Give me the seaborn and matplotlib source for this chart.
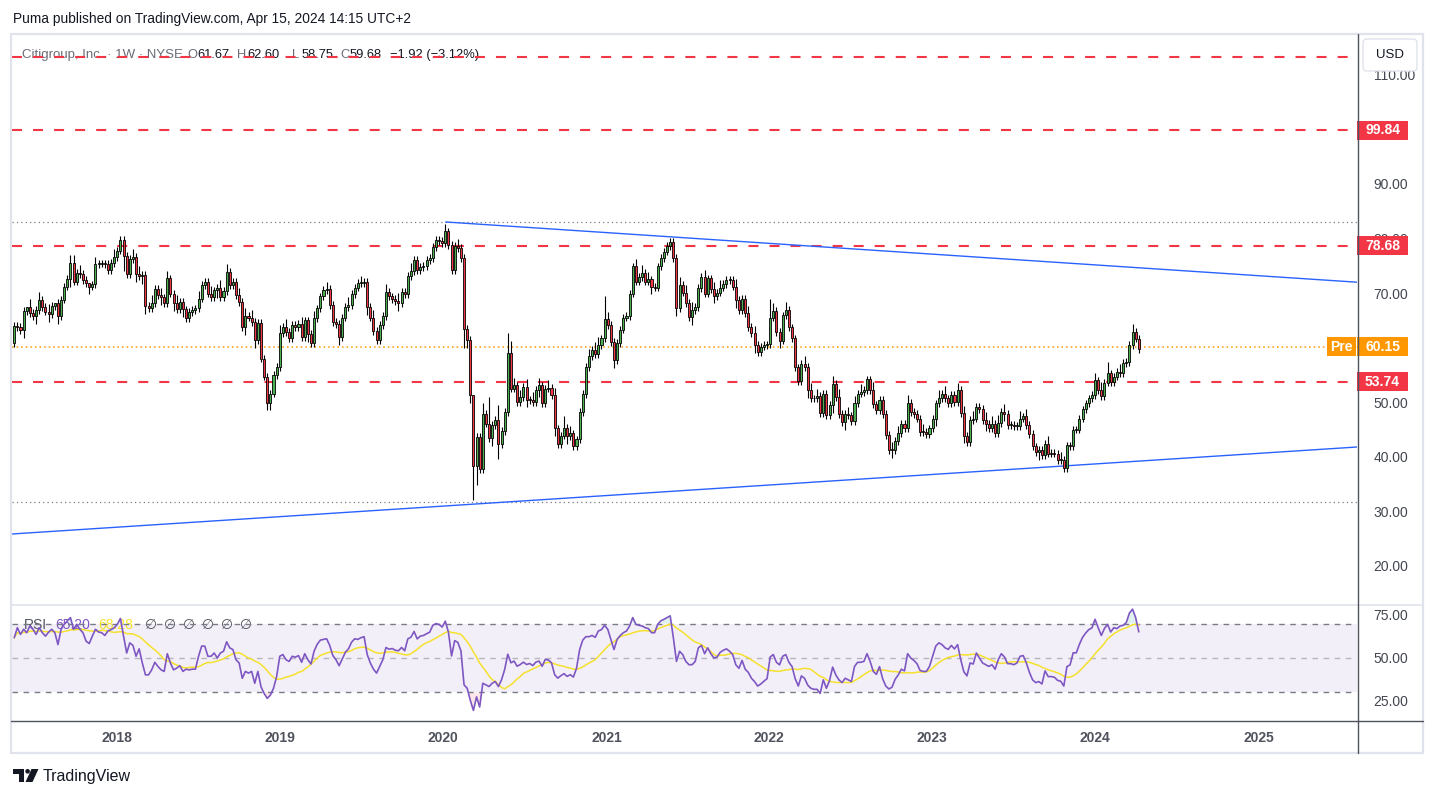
import numpy as np
import pandas as pd
import matplotlib
matplotlib.use("Agg")
import matplotlib.pyplot as plt
import matplotlib.dates as mdates
import matplotlib.transforms as mtransforms
from matplotlib.patches import Rectangle, Polygon, Circle, FancyBboxPatch
import seaborn as sns

# ---- weekly closes (Citigroup, May 2017 -> Apr 2024) ----
close = [
    64.0, 63.8, 63.2, 66.7, 67.5, 66.4, 65.8, 66.9, 68.8, 67.4,
    66.6, 66.1, 67.6, 68.2, 65.8, 68.8, 71.2, 72.6, 75.6, 72.1,
    73.7, 73.5, 72.4, 71.8, 71.2, 71.6, 75.3, 75.4, 75.4, 75.3,
    74.2, 75.5, 76.6, 77.8, 79.8, 76.8, 73.5, 76.3, 76.7, 73.5,
    73.1, 73.3, 67.6, 67.2, 68.2, 70.8, 69.6, 69.2, 68.2, 72.7,
    69.9, 68.2, 67.0, 68.4, 67.0, 65.4, 66.5, 66.9, 67.2, 69.0,
    71.5, 72.1, 69.9, 69.3, 70.5, 71.0, 69.3, 70.4, 73.9, 71.5,
    72.1, 69.6, 68.4, 63.8, 65.8, 65.5, 64.7, 61.4, 64.6, 58.0,
    54.7, 49.9, 51.6, 55.0, 56.5, 62.7, 63.8, 62.9, 61.7, 64.1,
    63.8, 64.3, 61.9, 65.0, 62.5, 60.8, 65.4, 67.2, 69.4, 70.6,
    70.7, 67.8, 64.7, 64.3, 61.9, 65.5, 67.4, 67.8, 69.8, 71.0,
    71.8, 71.8, 72.1, 67.4, 65.5, 63.1, 61.4, 64.1, 65.8, 70.2,
    69.4, 68.9, 68.6, 68.1, 70.2, 69.8, 73.1, 74.1, 76.1, 74.2,
    74.8, 75.0, 76.1, 76.4, 78.5, 79.7, 79.6, 79.2, 81.3, 78.8,
    74.2, 78.6, 78.3, 76.4, 63.5, 61.4, 51.3, 38.4, 43.7, 37.8,
    47.8, 46.1, 43.4, 45.8, 46.7, 42.4, 44.7, 48.2, 59.1, 52.5,
    53.1, 50.1, 50.9, 52.8, 50.5, 50.4, 50.1, 52.3, 53.1, 49.8,
    52.5, 52.6, 51.3, 45.2, 42.4, 43.9, 45.3, 43.8, 44.3, 41.9,
    43.2, 48.2, 51.5, 56.5, 58.4, 59.6, 58.8, 60.5, 61.7, 65.2,
    64.1, 61.1, 57.7, 60.8, 63.3, 65.5, 65.8, 69.9, 74.9, 72.1,
    73.0, 73.7, 72.1, 72.5, 71.2, 71.0, 74.9, 76.4, 77.6, 78.6,
    79.4, 76.4, 67.2, 71.5, 70.1, 68.2, 65.6, 66.9, 67.4, 70.9,
    72.9, 69.9, 72.7, 70.7, 69.5, 70.1, 71.0, 71.7, 72.4, 72.4,
    71.2, 68.7, 66.9, 69.0, 66.3, 63.8, 62.6, 60.5, 59.2, 60.2,
    60.5, 60.6, 65.5, 66.8, 62.9, 61.3, 65.9, 66.9, 63.7, 61.7,
    56.4, 53.9, 57.1, 56.5, 52.2, 50.7, 50.7, 51.1, 48.0, 51.5,
    47.6, 49.5, 53.4, 51.0, 47.9, 46.4, 47.8, 47.6, 46.6, 49.8,
    51.6, 51.9, 52.3, 54.2, 52.3, 49.6, 48.5, 50.4, 47.8, 44.0,
    41.3, 41.2, 42.9, 44.3, 46.0, 45.3, 49.9, 48.2, 47.9, 47.0,
    44.6, 44.5, 44.2, 45.2, 47.0, 49.8, 50.8, 51.6, 50.7, 49.8,
    51.3, 50.1, 52.2, 48.0, 43.9, 42.7, 46.7, 47.0, 49.1, 48.8,
    46.8, 46.1, 45.2, 46.1, 44.4, 46.2, 48.2, 47.9, 45.8, 45.8,
    45.6, 45.6, 47.0, 47.4, 45.8, 44.2, 41.9, 40.9, 41.3, 40.3,
    42.4, 40.6, 40.7, 40.6, 39.4, 39.4, 38.0, 42.1, 41.9, 45.0,
    45.0, 47.0, 48.7, 49.8, 50.7, 51.3, 54.0, 52.3, 51.1, 53.6,
    55.3, 53.7, 54.7, 55.6, 55.3, 57.2, 57.4, 60.5, 62.9, 61.67,
    59.68,
]
first_open = 60.8

# wick lengths beyond the body, one digit per week, in units of WICK_UNIT
wick_up = "".join([
    "1111021121", "1210111122", "1211012111", "1121111121", "2111211212",
    "1121111112", "1112112121", "1121212111", "1111121211", "1121112111",
    "2111111211", "1211121112", "1112111211", "1111111121", "1121111011",
    "3171141153", "2121212121", "1212113121", "1111212216", "2111111112",
    "1212111111", "1112121211", "1211212111", "1211121211", "1152111211",
    "1112121211", "1121211212", "1211121111", "1212112111", "1211112121",
    "1121211211", "1212121211", "1121211111", "1211121111", "1111112121",
    "3111211121", "1",
])
wick_dn = "".join([
    "1112111211", "1211211121", "1111211111", "1111141112", "1221111211",
    "1211211111", "1111121111", "1111211211", "1221111111", "1111211111",
    "1111211111", "1112111111", "1112111111", "1111111111", "1111522951",
    "1112141111", "1111211121", "1112111211", "1111111111", "1121111111",
    "1111211111", "1121111211", "1111211111", "1211111211", "1111121111",
    "1111211111", "1121112111", "1111111111", "1211111111", "1111121111",
    "1111211111", "1211111211", "1111111121", "1111111111", "1111111111",
    "1111111111", "1",
])
WICK_UNIT = 0.7

# RSI(14), weekly
rsi = [
    61.8, 67.6, 63.7, 66.7, 64.7, 68.6, 66.7, 63.7, 67.6, 64.7,
    62.7, 65.0, 66.7, 64.7, 57.8, 66.7, 69.6, 71.6, 73.5, 66.7,
    69.6, 66.7, 64.7, 59.8, 58.4, 62.7, 66.7, 65.1, 64.7, 63.1,
    65.7, 66.5, 67.6, 69.6, 73.0, 62.7, 52.9, 58.8, 57.3, 51.0,
    55.3, 47.1, 40.2, 40.2, 43.1, 47.5, 45.1, 43.1, 42.2, 52.5,
    47.1, 43.1, 44.1, 45.5, 42.2, 43.5, 43.1, 43.5, 43.5, 51.0,
    56.9, 56.9, 51.0, 51.0, 52.9, 50.0, 52.9, 53.9, 59.4, 55.9,
    54.9, 49.0, 47.1, 38.2, 42.2, 41.2, 42.2, 35.3, 42.2, 33.3,
    29.4, 26.5, 28.4, 32.4, 39.2, 51.0, 52.0, 49.0, 48.0, 51.0,
    50.5, 51.4, 47.5, 52.5, 49.0, 46.5, 54.0, 58.0, 60.4, 60.8,
    61.2, 57.3, 51.4, 49.0, 45.5, 49.4, 53.3, 55.3, 59.2, 61.2,
    60.8, 61.8, 62.4, 52.0, 47.1, 43.5, 41.2, 45.1, 49.0, 56.1,
    55.1, 55.5, 54.5, 54.2, 56.1, 54.2, 61.1, 62.1, 65.4, 61.1,
    62.7, 63.1, 64.1, 65.0, 69.0, 70.0, 69.5, 68.0, 71.4, 65.0,
    51.2, 60.1, 59.1, 54.2, 34.4, 32.4, 25.4, 19.5, 27.4, 21.5,
    35.3, 34.4, 33.4, 35.3, 36.3, 33.4, 37.3, 43.3, 52.2, 47.2,
    48.2, 45.2, 46.2, 47.6, 46.2, 46.8, 45.6, 47.6, 48.2, 45.2,
    49.2, 48.8, 47.2, 40.3, 38.3, 39.7, 40.9, 39.3, 40.3, 38.9,
    44.0, 54.9, 60.4, 62.4, 62.4, 63.1, 62.0, 65.7, 66.5, 69.0,
    66.7, 60.8, 54.9, 60.8, 63.1, 64.7, 65.7, 68.6, 73.5, 69.6,
    69.0, 68.6, 67.6, 67.1, 64.7, 64.7, 69.6, 71.6, 72.5, 73.5,
    74.5, 61.8, 48.0, 53.9, 52.0, 48.0, 46.1, 46.1, 48.0, 55.9,
    57.3, 52.5, 55.9, 52.5, 50.0, 50.6, 53.3, 54.5, 55.3, 53.9,
    52.0, 46.1, 44.0, 48.6, 43.5, 41.6, 38.2, 36.3, 33.7, 34.9,
    36.5, 38.0, 50.6, 52.0, 47.5, 46.0, 51.0, 52.0, 47.5, 45.0,
    38.0, 33.7, 39.6, 38.2, 34.3, 32.4, 31.8, 31.8, 29.4, 37.3,
    32.4, 36.9, 44.7, 40.2, 37.3, 35.7, 38.2, 37.3, 36.3, 45.1,
    47.5, 47.5, 48.0, 52.5, 48.0, 42.2, 40.5, 45.0, 38.0, 33.7,
    32.0, 33.0, 37.6, 40.2, 43.5, 42.5, 52.5, 50.0, 48.6, 46.7,
    42.7, 42.2, 42.2, 45.1, 51.0, 56.9, 58.8, 57.8, 55.9, 55.0,
    57.3, 55.3, 57.8, 49.0, 42.0, 39.6, 47.1, 46.5, 52.9, 50.0,
    47.1, 46.1, 45.1, 46.1, 43.5, 49.0, 52.5, 50.6, 46.7, 46.7,
    46.1, 47.1, 51.0, 51.4, 47.1, 41.6, 37.3, 35.7, 36.3, 34.9,
    42.5, 39.2, 39.2, 38.8, 37.0, 36.5, 33.7, 45.0, 46.0, 53.0,
    53.0, 58.0, 62.0, 64.5, 66.5, 67.5, 72.5, 67.6, 63.1, 67.1,
    69.6, 65.1, 67.6, 67.1, 68.6, 69.0, 70.6, 76.1, 78.4, 73.5,
    65.2,
]
RSI_MA_LEN = 14

LAST_WEEK = "2024-04-08"
red_levels = [113.27, 99.84, 78.68, 53.74]
red_tags = [99.84, 78.68, 53.74]
pre_price = 60.15
dotted_levels = [83.04, 31.73]
trend_upper = [("2020-01-06", 83.04), ("2025-08-10", 72.0)]
trend_lower = [("2017-05-10", 25.86), ("2025-08-10", 41.8)]
years = [2018, 2019, 2020, 2021, 2022, 2023, 2024, 2025]
# 100 and 60 sit under the price tags, so the scale leaves them out
price_ticks = [20, 30, 40, 50, 70, 80, 90, 110]
rsi_ticks = [25, 50, 75]

# ---- styling ----
sns.set_theme(style="white")
plt.rcParams["font.family"] = ["Liberation Sans", "DejaVu Sans"]
GREEN, RED, ORANGE = "#4caf50", "#f23645", "#ff9800"
PURPLE, YELLOW, BLUE = "#7e57c2", "#f5e12c", "#2962ff"
INK, MUTED, FRAME = "#131722", "#6a6d78", "#e0e3eb"

W, H, DPI = 1436, 798, 100

# ---- build candle table ----
dates = pd.date_range(end=LAST_WEEK, periods=len(close), freq="7D")
df = pd.DataFrame({"date": dates, "close": close, "rsi": rsi})
df["open"] = [first_open] + close[:-1]
df["up"] = [int(ch) * WICK_UNIT for ch in wick_up]
df["dn"] = [int(ch) * WICK_UNIT for ch in wick_dn]
df["high"] = df[["open", "close"]].max(axis=1) + df["up"]
df["low"] = df[["open", "close"]].min(axis=1) - df["dn"]
df["rsi_ma"] = df["rsi"].rolling(RSI_MA_LEN, min_periods=1).mean()
df["x"] = mdates.date2num(df["date"])
rising = df["close"] >= df["open"]

fig = plt.figure(figsize=(W / DPI, H / DPI), dpi=DPI)
fig.patch.set_facecolor("white")


def px_rect(x0, y0, x1, y1):
    return [x0 / W, 1 - y1 / H, (x1 - x0) / W, (y1 - y0) / H]


pix = mtransforms.Affine2D().scale(1 / W, -1 / H).translate(0, 1) + fig.transFigure

ax = fig.add_axes(px_rect(12, 35, 1357, 604))
ax_r = fig.add_axes(px_rect(12, 605, 1357, 720), sharex=ax)
xlim = mdates.date2num([pd.Timestamp("2017-05-10"), pd.Timestamp("2025-08-10")])
ax.set_xlim(*xlim)
ax.set_ylim(13.03, 117.30)
ax_r.set_ylim(13.95, 80.81)

for a in (ax, ax_r):
    for s in a.spines.values():
        s.set_visible(False)
    a.set_facecolor("white")
    a.yaxis.tick_right()
    a.tick_params(axis="y", length=0, pad=12, labelsize=10, labelcolor="#42464f")
    a.tick_params(axis="x", length=0)

# ---- price pane ----
body_bottom = df[["open", "close"]].min(axis=1)
body_h = (df["close"] - df["open"]).abs().clip(lower=0.15)
ax.vlines(df["x"], df["low"], df["high"], color="black", lw=0.8, zorder=3)
ax.bar(df["x"], body_h, bottom=body_bottom, width=4.6,
       color=np.where(rising, GREEN, RED), edgecolor="black", linewidth=0.6, zorder=4)

for lv in red_levels:
    ax.axhline(lv, color=RED, lw=1.5, ls=(0, (4.8, 5.3)), zorder=2)
for lv in dotted_levels:
    ax.axhline(lv, color="#787b86", lw=0.9, ls=(0, (1, 2.5)), zorder=2)
ax.axhline(pre_price, color=ORANGE, lw=1.1, ls=(0, (1, 2)), zorder=2)
for seg in (trend_upper, trend_lower):
    sx = mdates.date2num([pd.Timestamp(d) for d, _ in seg])
    ax.plot(sx, [p for _, p in seg], color=BLUE, lw=1.0, zorder=2, solid_capstyle="butt")

ax.set_yticks(price_ticks, [f"{v:.2f}" for v in price_ticks])
ax.tick_params(axis="x", labelbottom=False)

# ---- RSI pane ----
ax_r.axhspan(30, 70, color=PURPLE, alpha=0.09, lw=0, zorder=0)
rv = df["rsi"].to_numpy()
ax_r.fill_between(df["x"], rv, 30, where=rv < 30, interpolate=True, color=RED, alpha=0.12, lw=0)
ax_r.fill_between(df["x"], rv, 70, where=rv > 70, interpolate=True, color="#089981", alpha=0.12, lw=0)
for lv, al in ((70, 1.0), (50, 0.5), (30, 1.0)):
    ax_r.axhline(lv, color="#787b86", alpha=al, lw=1.0, ls=(0, (4, 4)), zorder=2)
sns.lineplot(data=df, x="x", y="rsi_ma", ax=ax_r, color=YELLOW, lw=1.1, sort=False, legend=False, zorder=3)
sns.lineplot(data=df, x="x", y="rsi", ax=ax_r, color=PURPLE, lw=1.2, sort=False, legend=False, zorder=4)
ax_r.set_xlabel("")
ax_r.set_ylabel("")
ax_r.set_yticks(rsi_ticks, [f"{v:.2f}" for v in rsi_ticks])
yt = mdates.date2num([pd.Timestamp(f"{y}-01-01") for y in years])
ax_r.set_xticks(yt, [str(y) for y in years], fontweight="bold")
ax_r.tick_params(axis="x", labelsize=10, labelcolor="#50535e", pad=8)
ax.set_ylabel("")

# legends inside panes (drawn under the dashed lines, as in the reference)
ax.text(22, 55, "Citigroup, Inc. · 1W · NYSE", transform=pix, fontsize=9.5,
        color=MUTED, va="center", zorder=1)
for xp, lab, val in ((187, "O", "61.67"), (237, "H", "62.60"), (292, "L", "58.75"), (340, "C", "59.68")):
    ax.text(xp, 55, lab, transform=pix, fontsize=9.3, color=MUTED, va="center", zorder=1)
    ax.text(xp + 10, 55, val, transform=pix, fontsize=9.3, color=INK, va="center", zorder=1)
ax.text(390, 55, "\u22121.92 (\u22123.12%)", transform=pix, fontsize=9.3, color=INK, va="center", zorder=1)

ax_r.text(24, 625, "RSI", transform=pix, fontsize=10, color="#50535e", va="center", zorder=1)
ax_r.text(55, 625, "65.20", transform=pix, fontsize=10, color=PURPLE, va="center", zorder=1)
ax_r.text(98, 625, "68.28", transform=pix, fontsize=10, color=YELLOW, va="center", zorder=1)
for xp in (145, 164, 183, 202, 221, 240):
    ax_r.text(xp, 625, "\u2205", transform=pix, fontsize=10, color="#50535e", va="center", zorder=1,
              family=["DejaVu Sans"])

# ---- overlay: frame, separators, tags, header, logo ----
ov = fig.add_axes([0, 0, 1, 1], zorder=10)
ov.set_xlim(0, W)
ov.set_ylim(H, 0)
ov.axis("off")
ov.patch.set_alpha(0)

ov.add_patch(Rectangle((11, 34), 1412, 719, fill=False, ec=FRAME, lw=1.6))
ov.plot([11, 1423], [604.5, 604.5], color=FRAME, lw=1.2)
ov.plot([11, 1423], [720.5, 720.5], color="#50535e", lw=1.0)
ov.plot([1357.5, 1357.5], [34, 753], color="#50535e", lw=1.0)


def y_px(v):
    return H - ax.transData.transform((xlim[0], v))[1]


def tag(v, text, fc, x0=1357, x1=1408):
    yc = y_px(v)
    ov.add_patch(Rectangle((x0, yc - 9.5), x1 - x0, 19, fc=fc, ec="none"))
    ov.text((x0 + x1) / 2, yc, text, color="white", fontsize=10, fontweight="bold",
            ha="center", va="center")


for v in red_tags:
    tag(v, f"{v:.2f}", RED)
tag(pre_price, "Pre", ORANGE, 1327, 1356)
tag(pre_price, f"{pre_price:.2f}", ORANGE)

ov.add_patch(FancyBboxPatch((1363, 39), 54, 32, boxstyle="round,pad=0,rounding_size=4",
                            fc="white", ec=FRAME, lw=1.0))
ov.text(1390, 55, "USD", fontsize=9.5, color=INK, ha="center", va="center")

ov.text(13, 19, "Puma published on TradingView.com, Apr 15, 2024 14:15 UTC+2",
        fontsize=9.9, color=INK, va="center")

# TradingView logo
ov.add_patch(Rectangle((13, 769), 11, 4.5, fc=INK, ec="none"))
ov.add_patch(Rectangle((18.5, 769), 5.5, 13, fc=INK, ec="none"))
ov.add_patch(Circle((27.6, 771.3), 2.3, fc=INK, ec="none"))
ov.add_patch(Polygon([(31.5, 769), (38.5, 769), (32.5, 782), (25.5, 782)], closed=True, fc=INK, ec="none"))
ov.text(43, 776, "TradingView", fontsize=11.5, color=INK, va="center")

fig.savefig("out.png", dpi=DPI)
